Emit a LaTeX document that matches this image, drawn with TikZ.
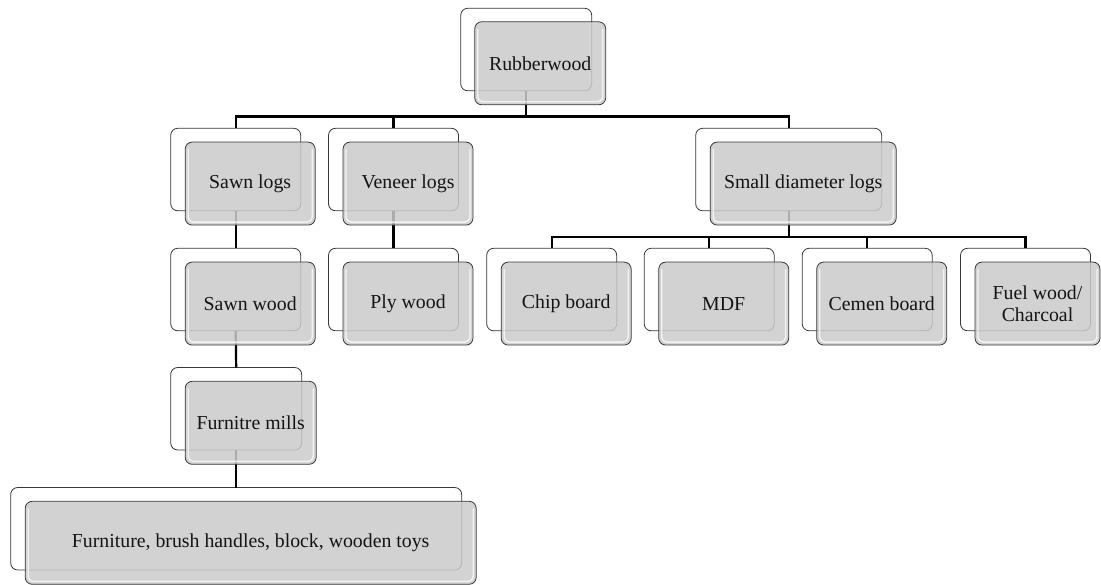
\documentclass[tikz,border=0pt]{standalone}
\usepackage{fontspec}
\setmainfont{Liberation Serif}
\usetikzlibrary{calc}
\definecolor{frontgray}{RGB}{203,203,203}
\definecolor{edgegray}{RGB}{55,55,55}
\definecolor{txt}{RGB}{20,20,20}
\begin{document}
\begin{tikzpicture}[x=1pt,y=-1pt,
  backbox/.style={draw=edgegray, line width=0.8pt, fill=white, rounded corners=7pt,
    minimum width=130pt, minimum height=82.5pt, anchor=north west, inner sep=0pt, outer sep=0pt},
  frontbox/.style={draw=edgegray, line width=0.8pt, fill=frontgray, fill opacity=0.85, text opacity=1,
    rounded corners=7pt, minimum width=130pt, minimum height=83pt, anchor=north west,
    inner sep=2pt, outer sep=0pt, font=\fontsize{19.8}{22}\selectfont, text=txt, align=center,
    path picture={\draw[white, draw opacity=0.75, line width=1.4pt, rounded corners=5pt]
      ([xshift=3pt,yshift=-7pt]path picture bounding box.north west) --
      ([xshift=3pt,yshift=3pt]path picture bounding box.south west) --
      ([xshift=-3pt,yshift=3pt]path picture bounding box.south east) --
      ([xshift=-3pt,yshift=-7pt]path picture bounding box.north east);}},
  conn/.style={draw=black, line width=2.2pt, line join=miter}
]
\useasboundingbox (0,0) rectangle (1101,585);

% back boxes
\node[backbox, minimum width=131pt] (rw) at (460.7,8.3) {};
\node[backbox] (sl) at (170.7,128.3) {};
\node[backbox] (vl) at (328.5,128.3) {};
\node[backbox, minimum width=186pt] (sdl) at (695.7,128.3) {};
\node[backbox] (sw) at (170.7,248.3) {};
\node[backbox] (pw) at (328.5,248.3) {};
\node[backbox] (cb) at (486.7,248.3) {};
\node[backbox] (mdf) at (644.2,248.3) {};
\node[backbox] (ceb) at (802.2,248.3) {};
\node[backbox] (fw) at (960.5,248.3) {};
\node[backbox, minimum width=131pt] (fm) at (170.7,367.5) {};
\node[backbox, minimum width=451pt] (fu) at (10.7,487.5) {};

% connectors
\coordinate (bus1) at (0,116.5);
\coordinate (bus2) at (0,237);
\draw[conn] (rw.south) |- (sl.north |- bus1) -- (sl.north);
\draw[conn] (rw.south) |- (sdl.north |- bus1) -- (sdl.north);
\draw[conn] (vl.north |- bus1) -- (vl.north);
\draw[conn] (sl.south) -- (sw.north);
\draw[conn] (vl.south) -- (pw.north);
\draw[conn] (sw.south) -- (fm.north);
\draw[conn] (fm.south) -- (fu.north);
\draw[conn] (sdl.south) |- (cb.north |- bus2) -- (cb.north);
\draw[conn] (sdl.south) |- (fw.north |- bus2) -- (fw.north);
\draw[conn] (mdf.north |- bus2) -- (mdf.north);
\draw[conn] (ceb.north |- bus2) -- (ceb.north);

% front boxes
\node[frontbox, minimum width=131pt] (rwF) at ($(rw.north west)+(14,13.5)$) {Rubberwood};
\node[frontbox] (slF) at ($(sl.north west)+(14.5,13.8)$) {Sawn logs};
\node[frontbox] (vlF) at ($(vl.north west)+(14.5,13.8)$) {Veneer logs};
\node[frontbox, minimum width=186pt] (sdlF) at ($(sdl.north west)+(14.5,13.8)$) {Small diameter logs};
\node[frontbox] (swF) at ($(sw.north west)+(14.5,13.8)$) {Sawn wood};
\node[frontbox] (pwF) at ($(pw.north west)+(14.5,13.8)$) {Ply wood};
\node[frontbox] (cbF) at ($(cb.north west)+(14.5,13.8)$) {Chip board};
\node[frontbox] (mdfF) at ($(mdf.north west)+(14.5,13.8)$) {MDF};
\node[frontbox] (cebF) at ($(ceb.north west)+(14.5,13.8)$) {Cemen board};
\node[frontbox, minimum width=125pt] (fwF) at ($(fw.north west)+(14.5,13.8)$) {Fuel wood/\\Charcoal};
\node[frontbox, minimum width=131pt] (fmF) at ($(fm.north west)+(14.5,13.8)$) {Furnitre mills};
\node[frontbox, minimum width=451pt] (fuF) at ($(fu.north west)+(14.5,13.8)$) {Furniture, brush handles, block, wooden toys};
\end{tikzpicture}
\end{document}
